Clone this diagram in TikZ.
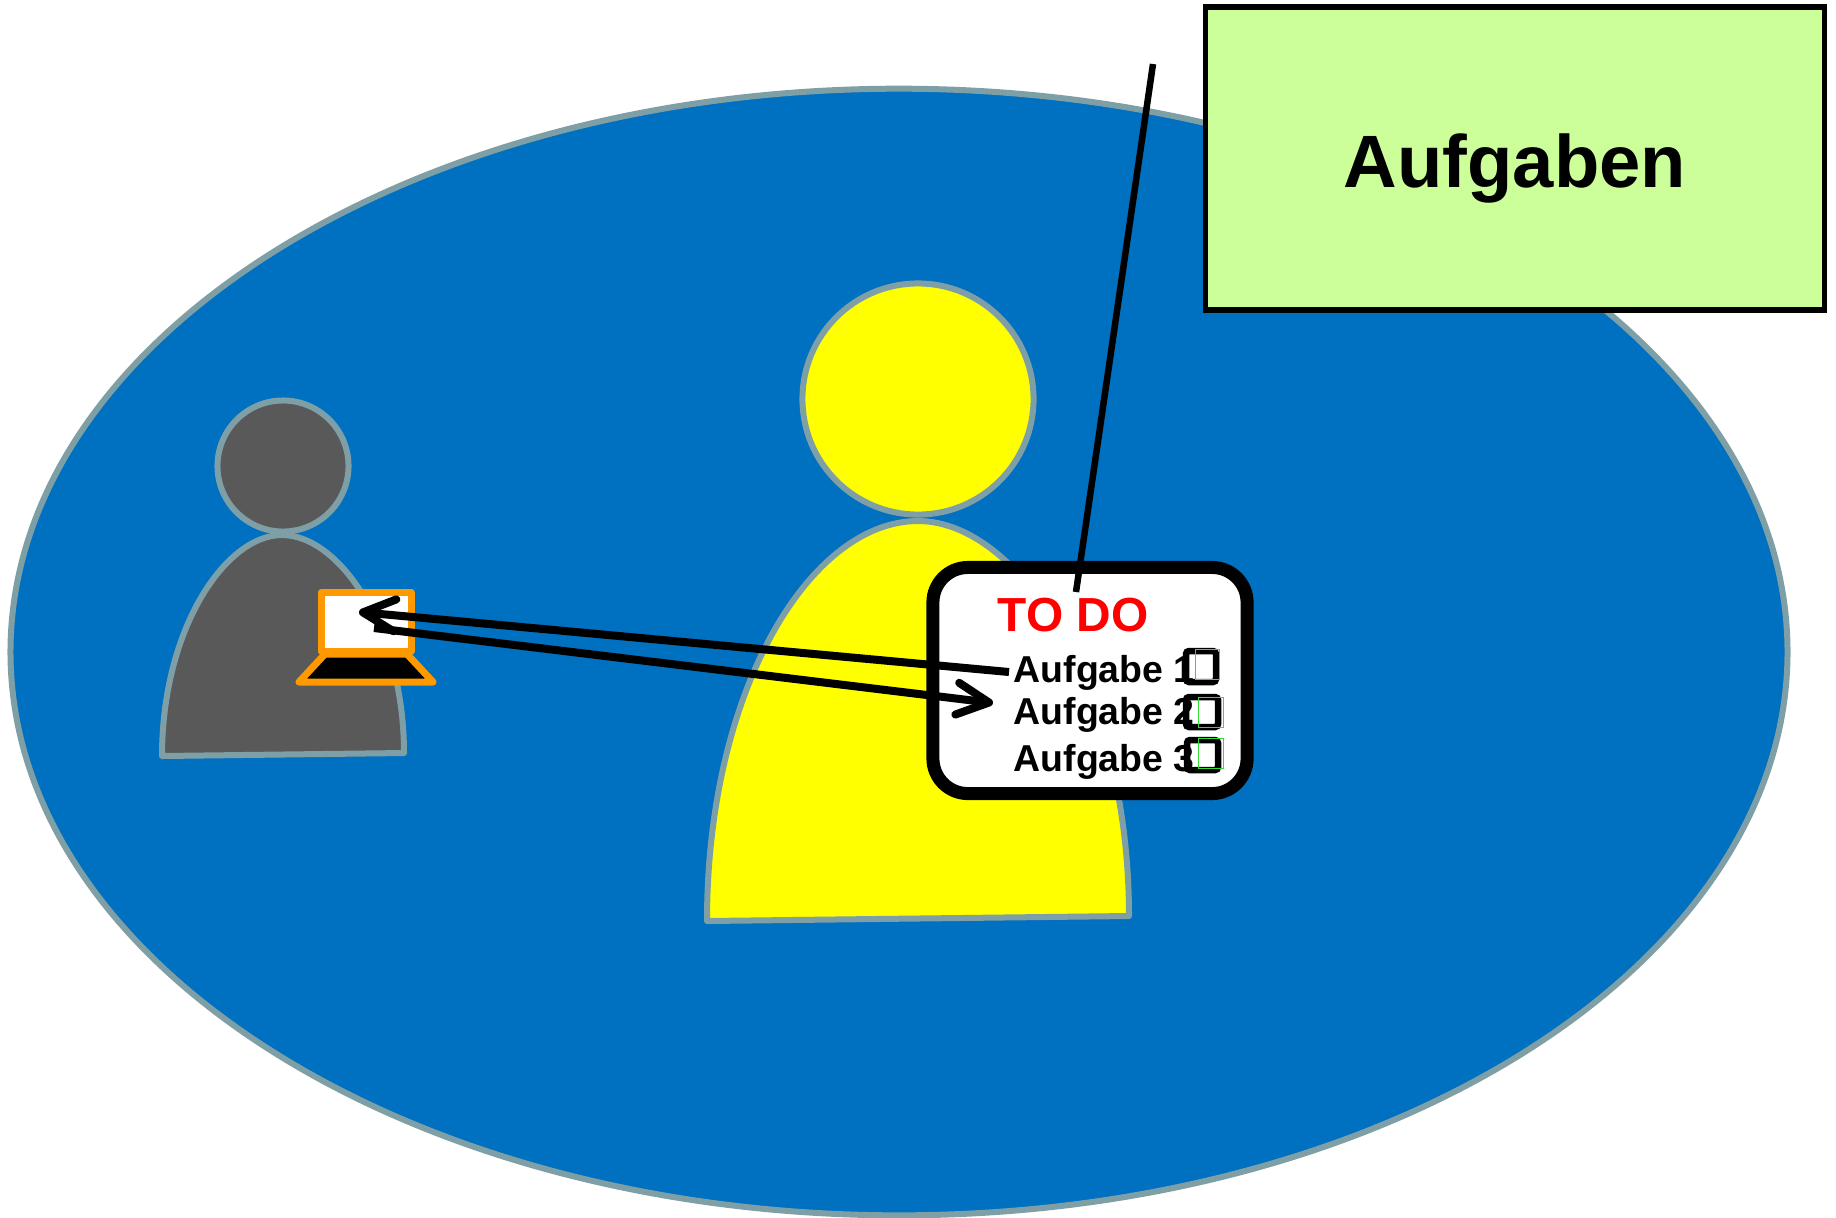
\documentclass[tikz,border=0pt]{standalone}
\usepackage{fontspec}
\setmainfont{Liberation Sans}
\usetikzlibrary{arrows.meta,shapes.geometric}
\definecolor{outline}{HTML}{7F9FA6}
\definecolor{areablue}{HTML}{0070C0}
\definecolor{boxgreen}{HTML}{CCFF99}
\definecolor{personyellow}{HTML}{FFFF00}
\definecolor{persongray}{HTML}{595959}
\definecolor{laptoporange}{HTML}{FF9900}
\definecolor{tickgreen}{HTML}{33DD33}
\tikzset{
    person/.style={draw=outline,line width=0.6mm,line join=round},
    taskline/.style={black,line width=0.8mm},
    taskarrow/.style={taskline,-{Straight Barb[length=3.2mm,width=3.2mm,round]}},
    tasktext/.style={font=\fontsize{10.65}{13}\selectfont\bfseries,anchor=base west,inner sep=0pt},
    checkbox/.style={draw=black,line width=0.65mm,rounded corners=0.3mm},
    tickbox/.style={draw=tickgreen,line width=0.1mm},
}
\begin{document}
\begin{tikzpicture}[x=0.01cm,y=-0.01cm]
    \useasboundingbox (0,0) rectangle (1836,1217);
    \node[ellipse,draw=outline,fill=areablue,line width=0.6mm,minimum width=17.76cm,minimum height=11.26cm,inner sep=0pt] (area) at (899,652) {};
    % grosse Person
    \node[circle,person,fill=personyellow,minimum size=2.31cm,inner sep=0pt] (headbig) at (918,399) {};
    \draw[person,fill=personyellow] (707,921) .. controls (707,690) and (810,521) .. (918,521) .. controls (1020,521) and (1129,690) .. (1129,916) -- cycle;
    % kleine Person
    \node[circle,person,fill=persongray,minimum size=1.31cm,inner sep=0pt] (headsmall) at (283,466) {};
    \draw[person,fill=persongray] (162,756) .. controls (162,630) and (225,535) .. (282,535) .. controls (340,535) and (404,630) .. (404,753) -- cycle;
    % Laptop
    \draw[laptoporange,fill=white,line width=0.7mm,line join=round] (321,592.5) rectangle (411,651);
    \draw[laptoporange,fill=black,line width=0.7mm,line join=round] (325,654) -- (407,654) -- (433,682) -- (299,682) -- cycle;
    % Liste
    \node[draw=black,fill=white,line width=1.3mm,rounded corners=3.5mm,minimum width=3.14cm,minimum height=2.26cm,inner sep=0pt] (todo) at (1090,680.5) {};
    \node[font=\fontsize{13.6}{16}\selectfont\bfseries,text=red,inner sep=0pt] (todotitle) at (1073,615) {TO DO};
    \node[tasktext] (task1) at (1013,682) {Aufgabe 1};
    \node[tasktext] (task2) at (1013,724) {Aufgabe 2};
    \node[tasktext] (task3) at (1013,771) {Aufgabe 3};
    \draw[checkbox] (1186,651) rectangle (1216,682);
    \draw[checkbox] (1186,697) rectangle (1218,727);
    \draw[checkbox] (1187,740) rectangle (1218,770);
    \draw[tickbox] (1195,649) rectangle (1219,679);
    \draw[tickbox] (1198,697) rectangle (1223,727);
    \draw[tickbox] (1198,738) rectangle (1223,768);
    % Pfeile
    \coordinate (screenin) at (359,612);
    \coordinate (screenout) at (374,628);
    \coordinate (taskin) at (993,703);
    \coordinate (taskout) at (1009,672);
    \draw[taskarrow] (taskout) -- (screenin);
    \draw[taskarrow] (screenout) -- (taskin);
    % Beschriftung
    \node[draw=black,fill=boxgreen,line width=0.55mm,minimum width=6.19cm,minimum height=3.03cm,inner sep=0pt] (label) at (1515,158.5) {};
    \node[font=\fontsize{21.1}{25}\selectfont\bfseries,inner sep=0pt] (labeltext) at (1515,168) {Aufgaben};
    \coordinate (labelend) at (1153,64);
    \coordinate (todoend) at (1076,592);
    \draw[black,line width=0.65mm] (labelend) -- (todoend);
\end{tikzpicture}
\end{document}
